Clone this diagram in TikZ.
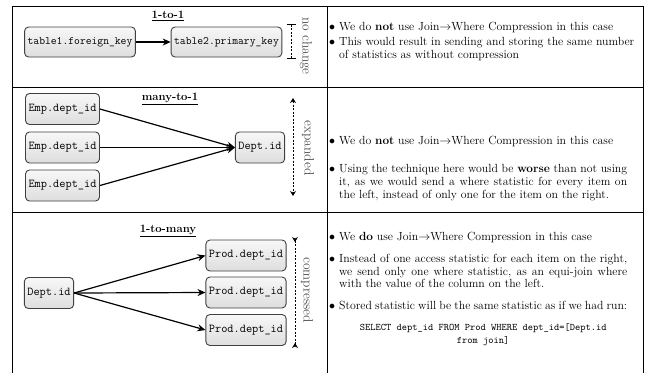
\documentclass[tikz,border=0pt]{standalone}
\usepackage{fontspec}
\usepackage{enumitem}
\usetikzlibrary{arrows.meta}
\setlist[itemize]{label=$\bullet$,leftmargin=9pt,labelsep=4pt,itemsep=2pt,topsep=0pt,parsep=0pt,partopsep=0pt}
\begin{document}
\begin{tikzpicture}[x=1pt,y=-1pt,
 box/.style={draw=black!75, line width=0.9pt, rounded corners=4pt, top color=gray!6, bottom color=gray!26, inner sep=3pt, minimum height=31pt},
 boxa/.style={box, font=\fontsize{11.3}{13}\ttfamily, minimum height=30pt},
 boxb/.style={box, font=\fontsize{12}{14}\ttfamily},
 conn/.style={line width=1.2pt, -{Stealth[length=8pt,width=7pt]}},
 marker/.style={line width=0.9pt, dash pattern=on 2pt off 1.5pt},
 ttl/.style={font=\fontsize{11.3}{13}\bfseries},
 side/.style={font=\fontsize{13.5}{15}\selectfont, rotate=-90, text=black!70},
 cell/.style={anchor=north west, text width=297pt, inner sep=0pt, align=justify, font=\fontsize{11.8}{12.6}\selectfont},
 gridline/.style={line width=0.8pt}]

\useasboundingbox (0,0) rectangle (652,373);

% table lines
\draw[gridline] (12,373) -- (12,6) -- (643,6) -- (643,373);
\draw[gridline] (327,6) -- (327,373);
\draw[gridline] (12,87) -- (643,87);
\draw[gridline] (12,212) -- (643,212);

% row 1
\node[ttl] (t1) at (168,16) {\underline{1-to-1}};
\node[boxa] (a1) at (80,42) {table1.foreign\_key};
\node[boxa] (a2) at (226.5,42) {table2.primary\_key};
\draw[conn] (a1) -- (a2);
\coordinate (m1a) at (291,24);
\coordinate (m1b) at (291,59);
\draw[marker, {Bar[width=9pt]}-{Bar[width=9pt]}] (m1a) -- (m1b);
\node[side] (s1) at (306,46) {no change};

% row 2
\node[ttl] (t2) at (170,99) {\underline{many-to-1}};
\node[boxb] (e1) at (62.5,109) {Emp.dept\_id};
\node[boxb] (e2) at (62.5,147.5) {Emp.dept\_id};
\node[boxb] (e3) at (62.5,185.5) {Emp.dept\_id};
\node[boxb] (d2) at (260,147.5) {Dept.id};
\draw[conn] (e1.east) -- (d2.west);
\draw[conn] (e2.east) -- (d2.west);
\draw[conn] (e3.east) -- (d2.west);
\coordinate (m2a) at (293,98);
\coordinate (m2b) at (293,196);
\draw[marker, {Stealth[length=5pt,width=6pt]}-{Stealth[length=5pt,width=6pt]}] (m2a) -- (m2b);
\node[side] (s2) at (308,148) {expanded};

% row 3
\node[ttl] (t3) at (168,231) {\underline{1-to-many}};
\node[boxb] (d3) at (49,293) {Dept.id};
\node[boxb] (p1) at (246,255.5) {Prod.dept\_id};
\node[boxb] (p2) at (246,292.5) {Prod.dept\_id};
\node[boxb] (p3) at (246,330) {Prod.dept\_id};
\draw[conn] (d3.east) -- (p1.west);
\draw[conn] (d3.east) -- (p2.west);
\draw[conn] (d3.east) -- (p3.west);
\coordinate (m3a) at (295,237);
\coordinate (m3b) at (295,348);
\draw[marker, {Stealth[length=5pt,width=6pt,reversed]}-{Stealth[length=5pt,width=6pt,reversed]}] (m3a) -- (m3b);
\node[side] (s3) at (307,290) {compressed};

% right column
\node[cell, text width=304pt] (c1) at (330,18) {%
\begin{itemize}[itemsep=2pt]
\item We do \textbf{not} use Join$\rightarrow$Where Compression in this case
\item This would result in sending and storing the same number\linebreak of statistics as without compression
\end{itemize}};

\node[cell] (c2) at (330,132) {%
\begin{itemize}[itemsep=15.5pt]
\item We do \textbf{not} use Join$\rightarrow$Where Compression in this case
\item Using the technique here would be \textbf{worse} than not using\linebreak it, as we would send a where statistic for every item on\linebreak the left, instead of only one for the item on the right.
\end{itemize}};

\node[cell] (c3) at (330,228) {%
\begin{itemize}[itemsep=9pt]
\item We \textbf{do} use Join$\rightarrow$Where Compression in this case
\item Instead of one access statistic for each item on the right,\linebreak we send only one where statistic, as an equi-join where\linebreak with the value of the column on the left.
\item Stored statistic will be the same statistic as if we had run:\par\vspace{8.5pt}
{\centering\fontsize{10}{13}\ttfamily SELECT dept\_id FROM Prod WHERE dept\_id=[Dept.id\\ from join]\par}
\end{itemize}};
\end{tikzpicture}
\end{document}
